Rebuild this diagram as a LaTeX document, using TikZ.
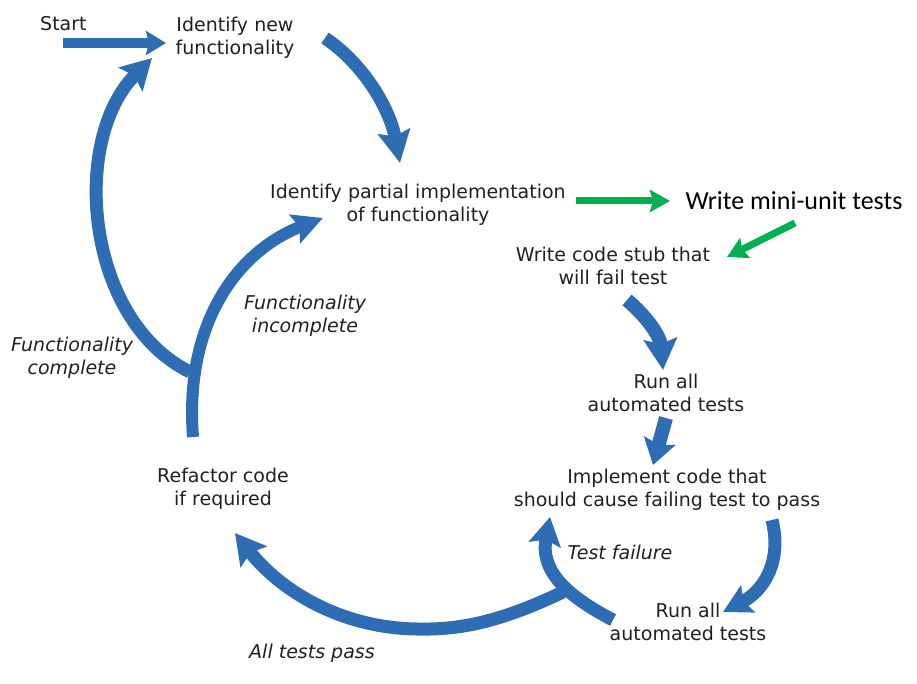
\documentclass[tikz,border=0pt]{standalone}
\usepackage{fontspec}
\setmainfont{DejaVu Sans}[ItalicFont={DejaVu Sans Oblique}]
\newfontfamily\calfont{Carlito}
\usetikzlibrary{arrows.meta}
\definecolor{flowblue}{RGB}{46,109,180}
\definecolor{flowgreen}{RGB}{0,176,80}
\definecolor{txt}{RGB}{35,31,32}
\begin{document}
\begin{tikzpicture}[x=1pt,y=-1pt,
  lbl/.style={align=center, inner sep=0pt, text=txt, font=\fontsize{19}{23}\selectfont},
  ilbl/.style={lbl, font=\fontsize{19}{23}\selectfont\itshape},
  bflow/.style={draw=flowblue, line width=13pt, -{Stealth[length=30pt,width=32pt,inset=5pt]}},
  gflow/.style={draw=flowgreen, line width=7pt, -{Stealth[length=20pt,width=22pt,inset=3pt]}}
]
\useasboundingbox (0,0) rectangle (917,684);
% texts
\node[lbl, anchor=base west] (start) at (40,31) {Start};
\node[lbl] (idnew) at (235,38) {Identify new\\functionality};
\node[lbl] (idpart) at (418,205) {Identify partial implementation\\of functionality};
\node[inner sep=0pt, font=\calfont\fontsize{26}{30}\selectfont] (mini) at (794,201) {Write mini-unit tests};
\node[lbl] (stub) at (613,266) {Write code stub that\\will fail test};
\node[lbl] (run1) at (666,393) {Run all\\automated tests};
\node[lbl] (impl) at (667,490) {Implement code that\\should cause failing test to pass};
\node[lbl] (refac) at (223,489) {Refactor code\\if required};
\node[lbl] (run2) at (688,622) {Run all\\automated tests};
\node[ilbl] (fcomp) at (72,358) {Functionality\\complete};
\node[ilbl] (fincomp) at (305,316) {Functionality\\incomplete};
\node[ilbl] (tfail) at (620,552) {Test failure};
\node[ilbl] (tpass) at (312,653) {All tests pass};
% connector end points
\coordinate (s0) at (63,43);
\coordinate (s1) at (166,43);
\coordinate (a0) at (325,38);
\coordinate (a1) at (400,163);
\coordinate (j1) at (190,372);
\coordinate (b1) at (152,58);
\coordinate (c0) at (193,437);
\coordinate (c1) at (323,218);
\coordinate (g0) at (576,201);
\coordinate (g1) at (670,201);
\coordinate (h0) at (795,223);
\coordinate (h1) at (727,257);
\coordinate (d0) at (627,300);
\coordinate (d1) at (663,370);
\coordinate (e0) at (666,418);
\coordinate (e1) at (653,465);
\coordinate (f0) at (772,520);
\coordinate (f1) at (723,612);
\coordinate (j2) at (563,592);
\coordinate (pb) at (417,629);
\coordinate (p1) at (235,533);
\coordinate (t0) at (613,620);
\coordinate (t1) at (550,517);
% connectors
\draw[bflow, line width=10pt, -{Stealth[length=20pt,width=24pt,inset=3pt]}] (s0) -- (s1);
\draw[bflow, -{Stealth[length=32pt,width=32pt,inset=5pt]}] (a0) .. controls (365,65) and (390,110) .. (a1);
\draw[bflow, -{Stealth[length=30pt,width=33pt,inset=5pt]}] (j1) .. controls (85,320) and (70,140) .. (b1);
\draw[bflow, line width=12pt, -{Stealth[length=30pt,width=30pt,inset=5pt]}] (c0) .. controls (184,320) and (240,250) .. (c1);
\draw[gflow] (g0) -- (g1);
\draw[gflow] (h0) -- (h1);
\draw[bflow, line width=14pt, -{Stealth[length=31pt,width=33pt,inset=5pt]}] (d0) .. controls (645,315) and (660,335) .. (d1);
\draw[bflow, line width=14pt, -{Stealth[length=25pt,width=32pt,inset=4pt]}] (e0) -- (e1);
\draw[bflow, -{Stealth[length=28pt,width=30pt,inset=5pt]}] (f0) .. controls (782,560) and (765,590) .. (f1);
\draw[bflow, -{Stealth[length=30pt,width=33pt,inset=5pt]}] (j2) .. controls (500,622) and (460,630) .. (pb) .. controls (340,628) and (280,590) .. (p1);
\draw[bflow, -{Stealth[length=28pt,width=32pt,inset=5pt]}] (t0) .. controls (565,595) and (540,570) .. (t1);
\end{tikzpicture}
\end{document}
